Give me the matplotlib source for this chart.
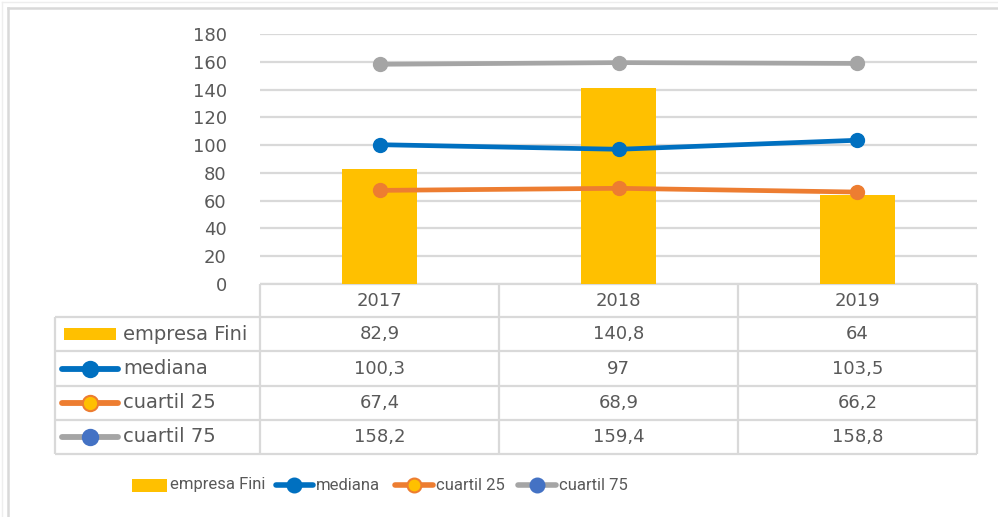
import matplotlib
matplotlib.use("Agg")
import matplotlib.pyplot as plt
from matplotlib.lines import Line2D
from matplotlib.patches import Rectangle
from matplotlib.transforms import blended_transform_factory

# ---- data ----
years = ["2017", "2018", "2019"]
empresa_fini = [82.9, 140.8, 64]
mediana = [100.3, 97, 103.5]
cuartil_25 = [67.4, 68.9, 66.2]
cuartil_75 = [158.2, 159.4, 158.8]
y_ticks = [0, 20, 40, 60, 80, 100, 120, 140, 160, 180]

series_names = ["empresa Fini", "mediana", "cuartil 25", "cuartil 75"]
series_values = [empresa_fini, mediana, cuartil_25, cuartil_75]

def fmt(v):
    s = f"{v:.1f}".rstrip("0").rstrip(".")
    return s.replace(".", ",")

# ---- style ----
YELLOW = "#FFC000"
BLUE = "#0070C0"
ORANGE = "#ED7D31"
GRAY = "#A5A5A5"
MARK_BLUE = "#4472C4"
GRID = "#D9D9D9"
TXT = "#595959"
FONT = "DejaVu Sans"
NARROW = ["Liberation Sans Narrow", "Roboto", "DejaVu Sans"]

W, H = 998, 517
fig = plt.figure(figsize=(W / 100, H / 100), dpi=100)

# overlay axes in pixel coordinates for frame, table and legend
ov = fig.add_axes([0, 0, 1, 1], zorder=0)
ov.set_xlim(0, W)
ov.set_ylim(H, 0)
ov.axis("off")

# plot area
px_l, px_r, px_t, px_b = 260, 977, 34, 284
ax = fig.add_axes([px_l / W, 1 - px_b / H, (px_r - px_l) / W, (px_b - px_t) / H], zorder=2)
ax.patch.set_alpha(0)
x = list(range(len(years)))
ax.set_xlim(-0.5, len(years) - 0.5)
ax.set_ylim(0, 180)
ax.set_yticks(y_ticks)
ax.set_yticklabels([str(t) for t in y_ticks], fontsize=13, color=TXT, family=FONT)
ax.tick_params(axis="y", length=0, pad=24)
ax.set_xticks([])
for s in ax.spines.values():
    s.set_visible(False)
ax.grid(axis="y", color=GRID, linewidth=1.6)
ax.set_axisbelow(True)

ax.bar(x, empresa_fini, width=0.315, color=YELLOW, zorder=2)
lw, ms = 3.4, 10
ax.plot(x, mediana, color=BLUE, lw=lw, marker="o", ms=ms, zorder=3, solid_capstyle="round")
ax.plot(x, cuartil_25, color=ORANGE, lw=lw, marker="o", ms=ms, zorder=3, solid_capstyle="round")
ax.plot(x, cuartil_75, color=GRAY, lw=lw, marker="o", ms=ms, zorder=3, solid_capstyle="round")

# ---- outer frame ----
ov.plot([2, 2], [2, H], color="#EEEEEE", lw=1)
ov.plot([2, W], [2, 2], color="#EEEEEE", lw=1)
ov.plot([8, 8], [8, H], color=GRID, lw=1.8)
ov.plot([8, W], [8, 8], color=GRID, lw=1.8)

# ---- data table ----
row_edges = [284, 317, 351, 386, 420, 454]
tab_left = 55
col_edges = [px_l + i * (px_r - px_l) / len(years) for i in range(len(years) + 1)]
tl = dict(color=GRID, lw=1.6, solid_capstyle="butt")
ov.plot([px_l, px_r], [row_edges[0], row_edges[0]], **tl)
for ye in row_edges[1:]:
    ov.plot([tab_left, px_r], [ye, ye], **tl)
for xe in col_edges:
    ov.plot([xe, xe], [row_edges[0], row_edges[-1]], **tl)
ov.plot([tab_left, tab_left], [row_edges[1], row_edges[-1]], **tl)

tr = blended_transform_factory(ax.transData, ov.transData)
hdr_y = (row_edges[0] + row_edges[1]) / 2
for xi, yr in zip(x, years):
    ov.text(xi, hdr_y, yr, transform=tr, ha="center", va="center",
            fontsize=13, color=TXT, family=FONT)
for r, vals in enumerate(series_values):
    cy = (row_edges[r + 1] + row_edges[r + 2]) / 2
    for xi, v in zip(x, vals):
        ov.text(xi, cy, fmt(v), transform=tr, ha="center", va="center",
                fontsize=13, color=TXT, family=FONT)


def key(x0, x1, cy, kind, mfc=None, mec=None, line=None, lw_key=4.2, msz=11):
    if kind == "bar":
        ov.add_patch(Rectangle((x0, cy - 6), x1 - x0, 12, color=YELLOW, lw=0))
    else:
        ov.add_line(Line2D([x0, x1], [cy, cy], color=line, lw=lw_key, solid_capstyle="round"))
        ov.add_line(Line2D([(x0 + x1) / 2], [cy], marker="o", ms=msz,
                           mfc=mfc, mec=mec, mew=1.5, lw=0))


keys = [
    dict(kind="bar"),
    dict(kind="line", line=BLUE, mfc=BLUE, mec=BLUE),
    dict(kind="line", line=ORANGE, mfc=YELLOW, mec=ORANGE),
    dict(kind="line", line=GRAY, mfc=MARK_BLUE, mec=MARK_BLUE),
]

for r, (name, k) in enumerate(zip(series_names, keys)):
    cy = (row_edges[r + 1] + row_edges[r + 2]) / 2
    if k["kind"] == "bar":
        key(64, 116, cy, **k)
    else:
        key(62, 118, cy, **k)
    ov.text(123, cy, name, ha="left", va="center", fontsize=14, color=TXT, family=FONT)

# ---- legend ----
leg_y = 485
leg_items = [(132, 167, 170), (276, 313, 316), (395, 433, 436), (518, 556, 559)]
for (x0, x1, tx), name, k in zip(leg_items, series_names, keys):
    if k["kind"] == "bar":
        ov.add_patch(Rectangle((x0, leg_y - 6.5), x1 - x0, 13, color=YELLOW, lw=0))
    else:
        key(x0, x1, leg_y, lw_key=4.0, msz=10, **k)
    ov.text(tx, leg_y, name, ha="left", va="center", fontsize=12, color=TXT, family=NARROW)

fig.savefig("out.png", dpi=100)
